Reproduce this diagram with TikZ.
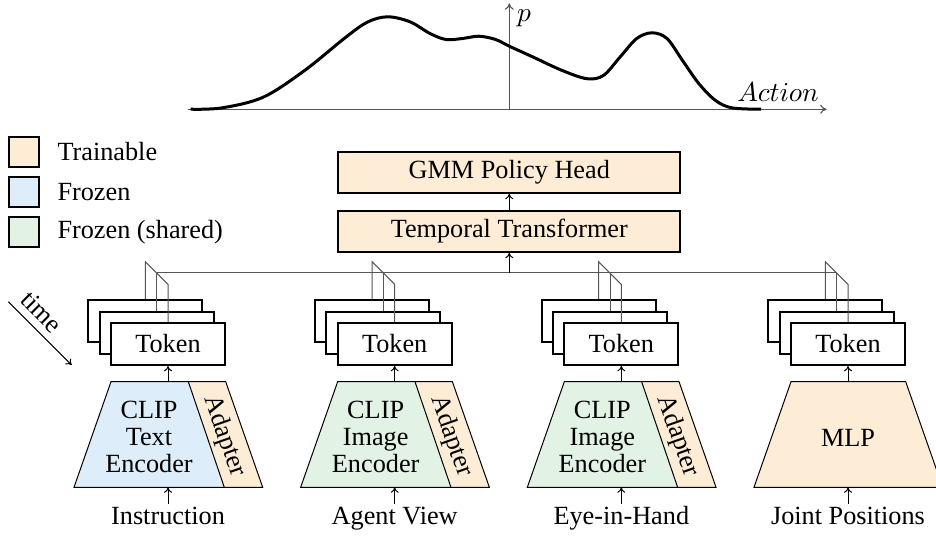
\documentclass[tikz,border=0pt]{standalone}
\usepackage{fontspec}
\setmainfont{Liberation Serif}
\usetikzlibrary{arrows.meta}
\definecolor{train}{RGB}{253,236,214}
\definecolor{frozen}{RGB}{221,237,250}
\definecolor{shared}{RGB}{226,242,228}
\definecolor{axisgray}{RGB}{85,85,85}
\begin{document}
\begin{tikzpicture}[x=0.4pt,y=-0.4pt,
  font=\fontsize{10.5pt}{10.7pt}\selectfont,
  tokenbox/.style={draw,line width=0.8pt,fill=white,minimum width=45.6pt,minimum height=16.8pt,inner sep=0pt},
  headbox/.style={draw,line width=0.8pt,fill=train,minimum width=136.8pt,minimum height=16.4pt,inner sep=0pt},
  legbox/.style={draw,line width=0.8pt,minimum width=12pt,minimum height=12pt,inner sep=0pt},
  legtext/.style={anchor=west,inner sep=0pt},
  bus/.style={draw=axisgray,line width=0.4pt},
  flow/.style={-{To[length=2.2pt,width=3.2pt]},line width=0.4pt},
  axis/.style={axisgray,line width=0.45pt,-{To[length=2.6pt,width=3.6pt]}},
  enc/.style={draw,line width=0.4pt},
  inlabel/.style={text height=7pt,text depth=2pt,inner sep=1pt},
  enctext/.style={align=center,inner sep=0pt}]
\useasboundingbox (0,0) rectangle (936,535);

% ---------- GMM curve ----------
\coordinate (xs) at (188,109.3);
\coordinate (xe) at (826.7,109.3);
\coordinate (ys) at (509.3,109.3);
\coordinate (ye) at (509.3,3.3);
\draw[axis] (xs) -- (xe);
\draw[axis] (ys) -- (ye);
\node (plab) at (524,18) {$p$};
\node (alab) at (778,92) {$Action$};
\draw[line width=1.2pt,line join=round] plot[smooth,tension=0.55] coordinates {
 (190.6,109.2) (221.7,107.9) (263.2,97.2) (304.7,70.4) (346.2,36.9) (368,21.8)
 (388,16.8) (410,21.8) (430,33.5) (446,39.5) (462.4,38.5) (479,36.2)
 (495.6,39.5) (509.3,46.2) (533,57) (562,70.4) (587,78.7) (603.5,75.4)
 (620.1,57) (636.7,38.5) (652,32.8) (667,38.5) (682.4,60.3) (699,83.8)
 (715.6,100.5) (732.2,107.9) (761.2,109.2)};

% ---------- legend ----------
\node[legbox,fill=train] (l1) at (24.2,151.7) {};
\node[legbox,fill=frozen] (l2) at (24.2,192.4) {};
\node[legbox,fill=shared] (l3) at (24.2,232.3) {};
\node[legtext] (lt1) at (57,151.7) {Trainable};
\node[legtext] (lt2) at (57,192.4) {Frozen};
\node[legtext] (lt3) at (57,232.3) {Frozen (shared)};

% ---------- time arrow ----------
\coordinate (ta) at (8.3,301.7);
\coordinate (tb) at (71.7,365);
\draw[flow] (ta) -- (tb);
\node[rotate=-45,inner sep=0pt] (timelab) at (41.7,311.7) {time};

% ---------- head ----------
\node[headbox] (gmm) at (509.3,172.2) {GMM Policy Head};
\node[headbox] (tt) at (509.3,231.2) {Temporal Transformer};
\draw[flow] (tt) -- (gmm);

% ---------- bus ----------
\coordinate (busL) at (156.67,272.7);
\coordinate (busR) at (836.67,272.7);
\coordinate (busM) at (509.3,272.7);
\draw[bus] (busL) -- (busR);
\draw[flow] (busM) -- (tt);

% ---------- columns ----------
\foreach \c/\n/\fc/\txt in {
  168/1/frozen/{CLIP\\Text\\Encoder},
  394.67/2/shared/{CLIP\\Image\\Encoder},
  621.33/3/shared/{CLIP\\Image\\Encoder}}{
  \fill[\fc] (\c-57,381.7) -- (\c+20.3,381.7) -- (\c+56.3,487.3) -- (\c-94,487.3) -- cycle;
  \fill[train] (\c+20.3,381.7) -- (\c+57.7,381.7) -- (\c+94.7,487.3) -- (\c+56.3,487.3) -- cycle;
  \draw[enc] (\c-57,381.7) -- (\c+57.7,381.7) -- (\c+94.7,487.3) -- (\c-94,487.3) -- cycle;
  \draw[enc] (\c+20.3,381.7) -- (\c+56.3,487.3);
  \node[enctext] (e\n) at (\c-19,437) {\txt};
  \node[rotate=-70.7,inner sep=0pt] (ad\n) at (\c+56.3,436) {Adapter};
  \coordinate (et\n) at (\c,381.7);
  \coordinate (eb\n) at (\c,487.3);
}
% MLP
\fill[train] (791,381.7) -- (905.7,381.7) -- (942.7,487.3) -- (754,487.3) -- cycle;
\draw[enc] (791,381.7) -- (905.7,381.7) -- (942.7,487.3) -- (754,487.3) -- cycle;
\node[enctext] (e4) at (848,437.5) {MLP};
\coordinate (et4) at (848,381.7);
\coordinate (eb4) at (848,487.3);

\foreach \c/\n/\lab in {168/1/Instruction, 394.67/2/Agent View, 621.33/3/Eye-in-Hand, 848/4/Joint Positions}{
  \node[tokenbox] (tb\n) at (\c-22.67,321.2) {};
  \node[tokenbox] (tm\n) at (\c-11.33,332.5) {};
  \node[tokenbox] (tf\n) at (\c,343.85) {Token};
  \draw[bus] (tb\n.north) -- ++(0,-37.5) -- ++(22.67,22.67) -- (tf\n.north);
  \draw[bus] (tm\n.north) -- (tm\n.north |- busL);
  \draw[flow] (et\n) -- (tf\n);
  \node[inlabel] (in\n) at (\c,518) {\lab};
  \draw[flow] (in\n) -- (eb\n);
}
\end{tikzpicture}
\end{document}
